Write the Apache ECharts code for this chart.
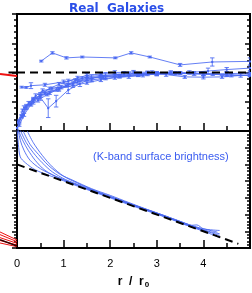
<!DOCTYPE html>
<html><head><meta charset="utf-8">
<script src="https://cdn.jsdelivr.net/npm/echarts@6/dist/echarts.min.js"></script>
<style>html,body{margin:0;padding:0;background:#fff}#c{width:252px;height:293px}</style>
</head><body><div id="c"></div>
<script>
// ---- data: upper panel (rotation-curve-like profiles with error bars) ----
const topA_r = [0.52, 0.76, 1.06, 1.4, 2.11, 2.45, 2.85, 3.5, 4.19, 5.0];
const topA_v = [2.39, 2.67, 2.5, 2.53, 2.5, 2.67, 2.53, 2.26, 2.36, 2.38];
const topA_e = [0.03, 0.04, 0.04, 0.03, 0.03, 0.04, 0.03, 0.05, 0.14, 0.12];
const topB_r = [0.1, 0.2, 0.3, 0.6, 1.0, 1.4, 1.8, 2.2, 2.6, 3.0, 3.5, 4.0, 4.5, 5.0];
const topB_v = [1.5, 1.49, 1.55, 1.58, 1.68, 1.8, 1.86, 1.9, 1.93, 1.96, 1.97, 1.95, 1.93, 1.9];
const topB_e = [0.03, 0.03, 0.1, 0.05, 0.06, 0.05, 0.05, 0.04, 0.05, 0.05, 0.05, 0.06, 0.07, 0.05];
const topC_r = [0, 0.1, 0.2, 0.35, 0.5, 0.7, 0.9, 1.1, 1.3, 1.6, 1.9, 2.2, 2.6, 3.0, 3.4, 3.8, 4.2, 4.6, 5.0];
const topC_v = [0.1, 0.5, 0.8, 1.05, 1.2, 1.3, 1.42, 1.58, 1.68, 1.75, 1.8, 1.86, 1.9, 1.95, 1.97, 1.96, 1.94, 1.9, 1.9];
const topC_e = [0.04, 0.05, 0.06, 0.06, 0.05, 0.05, 0.06, 0.05, 0.05, 0.04, 0.05, 0.05, 0.04, 0.06, 0.05, 0.05, 0.04, 0.05, 0.04];
const topD_r = [0.02, 0.12, 0.25, 0.4, 0.55, 0.75, 0.95, 1.2, 1.5, 1.85, 2.2, 2.6, 3.0, 3.5, 4.0, 4.5, 5.0];
const topD_v = [0.3, 0.7, 0.95, 1.2, 1.38, 1.45, 1.5, 1.62, 1.78, 1.85, 1.88, 1.92, 1.98, 1.98, 1.95, 1.96, 1.98];
const topD_e = [0.05, 0.05, 0.06, 0.07, 0.06, 0.05, 0.06, 0.06, 0.05, 0.05, 0.06, 0.05, 0.05, 0.05, 0.06, 0.06, 0.05];
const topE_r = [0.05, 0.2, 0.35, 0.5, 0.67, 0.84, 1.1, 1.35, 1.6, 1.9, 2.3, 2.8, 3.3];
const topE_v = [0.35, 0.85, 1.0, 1.15, 0.78, 1.02, 1.4, 1.62, 1.8, 1.9, 1.95, 1.97, 2.0];
const topE_e = [0.05, 0.06, 0.08, 0.1, 0.32, 0.2, 0.12, 0.1, 0.12, 0.1, 0.08, 0.08, 0.06];
const topF_r = [0.1, 0.3, 0.5, 0.7, 0.9, 1.1, 1.3, 1.5, 1.8, 2.1, 2.5, 2.9, 3.3, 3.7, 4.1, 4.5, 5.0];
const topF_v = [0.5, 0.95, 1.25, 1.45, 1.6, 1.7, 1.82, 1.9, 1.95, 2.0, 2.02, 2.0, 1.98, 2.0, 2.05, 2.1, 2.15];
const topF_e = [0.05, 0.06, 0.06, 0.05, 0.06, 0.07, 0.05, 0.06, 0.05, 0.06, 0.05, 0.06, 0.05, 0.06, 0.1, 0.07, 0.08];
const topG_r = [0.05, 0.15, 0.3, 0.45, 0.65, 0.85, 1.05, 1.25, 1.5, 1.8, 2.1, 2.4, 2.8, 3.2, 3.6, 4.0, 4.4, 4.8, 5.0];
const topG_v = [0.2, 0.55, 0.9, 1.05, 1.25, 1.42, 1.55, 1.72, 1.85, 1.9, 1.92, 1.95, 1.98, 1.93, 1.85, 1.84, 1.85, 1.9, 1.92];
const topG_e = [0.04, 0.05, 0.05, 0.06, 0.05, 0.06, 0.05, 0.06, 0.05, 0.05, 0.05, 0.06, 0.05, 0.06, 0.05, 0.06, 0.05, 0.06, 0.05];
const topH_r = [0.15, 0.35, 0.6, 0.9, 1.2, 1.5, 1.8, 2.1, 2.4, 2.7, 3.0, 3.4, 3.8];
const topH_v = [0.8, 1.1, 1.3, 1.45, 1.55, 1.65, 1.75, 1.82, 1.86, 1.9, 1.95, 1.98, 1.97];
const topH_e = [0.06, 0.05, 0.06, 0.05, 0.06, 0.05, 0.06, 0.05, 0.06, 0.05, 0.06, 0.05, 0.06];
const topRef_r = [0, 5];
const topRef_v = [2, 2];

// ---- data: lower panel (K-band surface brightness profiles) ----
const botA_r = [0, 0.03, 0.07, 0.18, 0.39, 0.71, 1.0, 1.4, 1.8, 2.2, 2.6, 3.0, 3.4, 3.8, 4.1, 4.35];
const botA_v = [7.2, 6.2, 5.45, 5.1, 4.68, 4.32, 4.02, 3.6, 3.2, 2.8, 2.4, 2.02, 1.62, 1.2, 0.9, 0.62];
const botB_r = [0, 0.07, 0.15, 0.28, 0.5, 0.82, 1.0, 1.5, 2.0, 2.5, 3.0, 3.5, 3.9, 4.35];
const botB_v = [7.5, 6.45, 5.85, 5.25, 4.75, 4.3, 4.1, 3.55, 3.05, 2.55, 2.08, 1.55, 1.15, 0.75];
const botC_r = [0.02, 0.13, 0.24, 0.39, 0.6, 0.93, 1.3, 1.7, 2.1, 2.5, 2.9, 3.3, 3.7, 3.86, 4.0, 4.35];
const botC_v = [7.1, 6.4, 5.85, 5.25, 4.65, 4.15, 3.75, 3.35, 2.95, 2.55, 2.15, 1.75, 1.35, 1.38, 1.15, 1.05];
const botD_r = [0.07, 0.2, 0.35, 0.54, 0.76, 1.04, 1.4, 1.8, 2.2, 2.6, 3.0, 3.4, 3.8, 4.3];
const botD_v = [7.05, 6.3, 5.7, 5.1, 4.55, 4.1, 3.7, 3.28, 2.88, 2.48, 2.1, 1.7, 1.3, 0.95];
const botE_r = [0.13, 0.28, 0.46, 0.67, 0.93, 1.2, 1.6, 2.0, 2.4, 2.8, 3.2, 3.6, 4.0, 4.35];
const botE_v = [7.0, 6.2, 5.6, 4.95, 4.4, 4.05, 3.55, 3.15, 2.72, 2.3, 1.9, 1.48, 1.08, 0.85];
const botF_r = [0.22, 0.35, 0.54, 0.76, 1.0, 1.3, 1.7, 2.1, 2.5, 2.9, 3.3, 3.7, 4.1];
const botF_v = [7.0, 6.3, 5.55, 4.85, 4.3, 3.88, 3.4, 2.98, 2.58, 2.18, 1.78, 1.38, 0.98];
const botRef_r = [0, 4.75];
const botRef_v = [5, 0.25];

// ---- data: neighbouring-panel slivers (left edge) ----
const slTopRed_r = [-1, 0];
const slTopRed_v = [1.95, 1.88];
const slTopDash_r = [-0.5, 0];
const slTopDash_v = [2, 2];
const slBotRed_r = [-1, 0];
const slBotRed1_v = [0.96, 0.48];
const slBotRed2_v = [0.8, 0.38];
const slBotRed3_v = [0.62, 0.28];
const slBotRed4_v = [0.45, 0.18];
const slBotRed5_v = [0.3, 0.08];
const slBotDark_v = [0.5, 0.12];

const xTickLabels = ['0', '1', '2', '3', '4'];

const BLUE = '#4a69f2';
const zip = (a, b) => a.map((v, i) => [v, b[i]]);
const zipErr = (a, b, e) => a.map((v, i) => [v, b[i] - e[i], b[i] + e[i]]);

const topSets = [
  [topA_r, topA_v, topA_e], [topB_r, topB_v, topB_e], [topC_r, topC_v, topC_e],
  [topD_r, topD_v, topD_e], [topE_r, topE_v, topE_e], [topF_r, topF_v, topF_e],
  [topG_r, topG_v, topG_e], [topH_r, topH_v, topH_e]
];
const botSets = [
  [botA_r, botA_v], [botB_r, botB_v], [botC_r, botC_v],
  [botD_r, botD_v], [botE_r, botE_v], [botF_r, botF_v]
];

function errRender(params, api) {
  const x = api.value(0), lo = api.value(1), hi = api.value(2);
  const p1 = api.coord([x, lo]), p2 = api.coord([x, hi]);
  const w = 2.2;
  const st = { stroke: BLUE, lineWidth: 1, opacity: 0.85 };
  return { type: 'group', children: [
    { type: 'line', shape: { x1: p1[0], y1: p1[1], x2: p2[0], y2: p2[1] }, style: st },
    { type: 'line', shape: { x1: p1[0] - w, y1: p1[1], x2: p1[0] + w, y2: p1[1] }, style: st },
    { type: 'line', shape: { x1: p2[0] - w, y1: p2[1], x2: p2[0] + w, y2: p2[1] }, style: st }
  ]};
}

const series = [];
topSets.forEach(s => {
  series.push({ type: 'line', xAxisIndex: 0, yAxisIndex: 0, data: zip(s[0], s[1]),
    symbol: 'rect', symbolSize: 2, showSymbol: true, clip: true,
    lineStyle: { color: BLUE, width: 1, opacity: 0.85 }, itemStyle: { color: BLUE }, z: 2, silent: true, animation: false });
  series.push({ type: 'custom', xAxisIndex: 0, yAxisIndex: 0, data: zipErr(s[0], s[1], s[2]),
    renderItem: errRender, clip: true, z: 2, silent: true, animation: false });
});
series.push({ type: 'line', xAxisIndex: 0, yAxisIndex: 0, data: zip(topRef_r, topRef_v), symbol: 'none',
  lineStyle: { color: '#000', width: 2, type: [8, 5] }, z: 5, animation: false });
botSets.forEach(s => {
  series.push({ type: 'line', xAxisIndex: 1, yAxisIndex: 2, data: zip(s[0], s[1]), symbol: 'none',
    smooth: 0.3, clip: true, lineStyle: { color: BLUE, width: 1, opacity: 0.9 }, z: 2, animation: false });
});
series.push({ type: 'line', xAxisIndex: 1, yAxisIndex: 2, data: zip(botRef_r, botRef_v), symbol: 'none',
  lineStyle: { color: '#000', width: 2, type: [8, 5] }, z: 5, animation: false });
// slivers
series.push({ type: 'line', xAxisIndex: 2, yAxisIndex: 4, data: zip(slTopRed_r, slTopRed_v), symbol: 'none',
  lineStyle: { color: '#ee1111', width: 2 }, animation: false });
series.push({ type: 'line', xAxisIndex: 2, yAxisIndex: 4, data: zip(slTopDash_r, slTopDash_v), symbol: 'none',
  lineStyle: { color: '#000', width: 2 }, z: 5, animation: false });
[slBotRed1_v, slBotRed2_v, slBotRed3_v, slBotRed4_v, slBotRed5_v].forEach(v => {
  series.push({ type: 'line', xAxisIndex: 3, yAxisIndex: 5, data: zip(slBotRed_r, v), symbol: 'none',
    lineStyle: { color: '#ee1111', width: 1 }, animation: false });
});
series.push({ type: 'line', xAxisIndex: 3, yAxisIndex: 5, data: zip(slBotRed_r, slBotDark_v), symbol: 'none',
  lineStyle: { color: '#330000', width: 1.5 }, z: 4, animation: false });

const FONT = 'Liberation Sans';
const tickStyle = { color: '#000', width: 1.5 };
function yAx(gi, max, pos) {
  const right = pos === 'right';
  return { type: 'value', gridIndex: gi, position: pos, min: 0, max: max, interval: 1,
    axisLine: { show: false }, axisLabel: { show: false }, splitLine: { show: false },
    axisTick: { show: true, inside: right, length: 5, lineStyle: tickStyle },
    minorTick: { show: true, splitNumber: 5, length: 3, lineStyle: tickStyle } };
}
function xAx(gi, labels) {
  const ax = { type: 'value', gridIndex: gi, min: 0, max: 5, interval: 1,
    axisLine: { show: false }, splitLine: { show: false },
    axisTick: { show: true, inside: true, length: 8, lineStyle: tickStyle },
    minorTick: { show: true, splitNumber: 2, length: 5, lineStyle: tickStyle },
    axisLabel: { show: labels, margin: 10, fontSize: 11, color: '#000', fontFamily: FONT,
      showMaxLabel: false, formatter: v => xTickLabels[v] !== undefined ? xTickLabels[v] : '' } };
  if (labels) {
    ax.name = '{a|r  /  r}{s|0}';
    ax.nameLocation = 'middle';
    ax.nameGap = 27;
    ax.nameTextStyle = { rich: {
      a: { fontSize: 12, fontWeight: 'bold', fontFamily: FONT, color: '#000', lineHeight: 14 },
      s: { fontSize: 8, fontWeight: 'bold', fontFamily: FONT, color: '#000', verticalAlign: 'bottom', lineHeight: 8, padding: [4, 0, 0, 1] } } };
  }
  return ax;
}
const hiddenX = gi => ({ type: 'value', gridIndex: gi, min: -1, max: 0, show: false });
const hiddenY = (gi, max) => ({ type: 'value', gridIndex: gi, min: 0, max: max, show: false });

const chart = echarts.init(document.getElementById('c'), null, { renderer: 'canvas' });
chart.setOption({
  animation: false,
  backgroundColor: '#fff',
  title: [
    { text: 'Real  Galaxies', left: 64, top: -2,
      textStyle: { fontFamily: 'DejaVu Sans', fontWeight: 'bold', fontSize: 12, color: '#2a4ee8' } },
    { text: '(K-band surface brightness)', left: 88, top: 146,
      textStyle: { fontFamily: FONT, fontWeight: 'normal', fontSize: 11, color: '#3a5cf0' } }
  ],
  grid: [
    { left: 17, top: 14, width: 233, height: 117, show: true, borderColor: '#000', borderWidth: 2, outerBoundsMode: 'none' },
    { left: 17, top: 131, width: 233, height: 117, show: true, borderColor: '#000', borderWidth: 2, outerBoundsMode: 'none' },
    { left: 0, top: 14, width: 17, height: 117, outerBoundsMode: 'none' },
    { left: 0, top: 131, width: 17, height: 117, outerBoundsMode: 'none' }
  ],
  xAxis: [xAx(0, false), xAx(1, true), hiddenX(2), hiddenX(3)],
  yAxis: [yAx(0, 4, 'left'), yAx(0, 4, 'right'), yAx(1, 7, 'left'), yAx(1, 7, 'right'), hiddenY(2, 4), hiddenY(3, 7)],
  series: series
});
</script></body></html>
